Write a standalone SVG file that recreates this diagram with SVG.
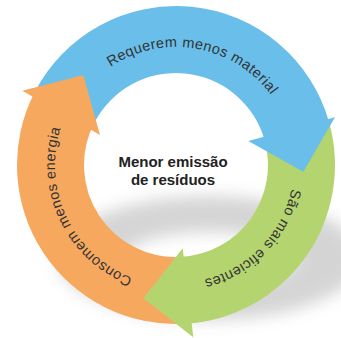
<svg xmlns="http://www.w3.org/2000/svg" width="341" height="338" viewBox="0 0 341 338">
<style>
.lbl{font-family:"Liberation Sans",Arial,sans-serif;font-size:14.5px;fill:#333;letter-spacing:0.4px;text-anchor:middle}
.ctr{font-family:"Liberation Sans",Arial,sans-serif;font-size:15px;font-weight:bold;fill:#222;text-anchor:middle}
.blue{fill:#69BEEA}
.green{fill:#B4D46F}
.orange{fill:#F6A85E}
</style>
<defs>
<filter id="sh" x="-30%" y="-30%" width="160%" height="160%"><feGaussianBlur stdDeviation="8"/></filter>
<path id="tp" d="M176 283 A118 118 0 1 1 176 47 A118 118 0 1 1 176 283"/>
<path id="tp2" d="M176 286 A121 121 0 1 1 176 44 A121 121 0 1 1 176 286"/>
</defs>
<rect width="341" height="338" fill="#fff"/>
<g id="shadow" filter="url(#sh)" opacity="0.36">
<path fill="#8a8a8a" fill-rule="evenodd" d="M58 258 A152 62 0 1 1 362 258 A152 62 0 1 1 58 258 Z M125 258 A85 26 0 1 0 295 258 A85 26 0 1 0 125 258 Z"/>
</g>
<g id="connectors">
<path class="blue" d="M34.33 92.81 A159 159 0 0 1 329.21 122.51 L264.65 140.42 A92 92 0 0 0 94.03 123.23 Z"/>
<path class="green" d="M329.21 122.51 A159 159 0 0 1 185.71 323.70 L181.62 256.83 A92 92 0 0 0 264.65 140.42 Z"/>
<path class="orange" d="M185.71 323.70 A159 159 0 0 1 34.33 92.81 L94.03 123.23 A92 92 0 0 0 181.62 256.83 Z"/>
<polygon class="orange" points="22.3,90.7 83.3,75 100,135"/>
<polygon class="blue" points="335,117.3 303.3,171.7 248.3,141"/>
<polygon class="green" points="182.7,248.3 143.3,298.3 193.3,337.3"/>
</g>
<g id="label-blue">
<text class="lbl"><textPath href="#tp" startOffset="52.78%">Requerem menos material</textPath></text>
</g>
<g id="label-green">
<text class="lbl"><textPath href="#tp" startOffset="87.2%">São mais eficientes</textPath></text>
</g>
<g id="label-orange">
<text class="lbl"><textPath href="#tp2" startOffset="17.9%">Consomem menos energia</textPath></text>
</g>
<g id="center">
<text class="ctr" x="173" y="167">Menor emissão</text>
<text class="ctr" x="173" y="185">de resíduos</text>
</g>
</svg>
